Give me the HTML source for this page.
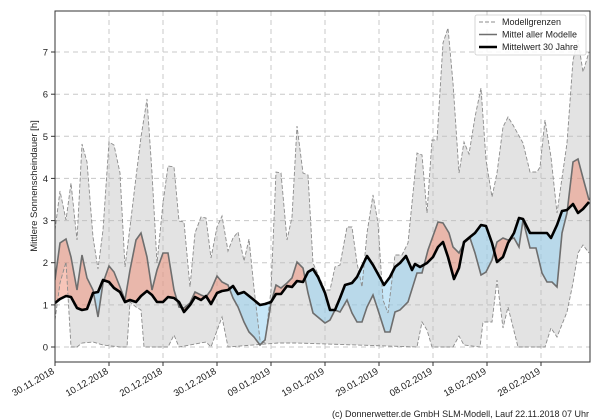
<!DOCTYPE html>
<html><head><meta charset="utf-8"><style>
html,body{margin:0;padding:0;background:#fff;}
svg{display:block;font-family:"Liberation Sans","DejaVu Sans",sans-serif;}
</style></head><body>
<svg width="600" height="420" viewBox="0 0 600 420" xmlns="http://www.w3.org/2000/svg">
<defs>
<clipPath id="plot"><rect x="55" y="11" width="535" height="351"/></clipPath>
<clipPath id="above"><polygon points="55,0 55,303 60,299 66,296 71,297 77,308 82,310 87,309 93,293 98,292 103,280 109,282 114,288 120,292 125,302 130,300 136,302 141,296 147,291 152,295 157,302 163,302 168,297 174,298 179,302 184,312 190,305 195,297 201,300 206,296 211,304 217,293 222,291 228,290 233,286 238,294 244,292 249,296 254,300 260,305 265,304 271,302 276,294 281,294 287,286 292,287 297,281 303,282 308,272 313,269 318,277 325,293 330,310 335,310 340,298 345,285 352,283 357,277 367,256 373,265 384,285 390,277 395,267 400,263 406,256 412,270 415,264 420,267 427,263 433,257 438,247 443,242 448,257 454,279 459,268 464,242 470,237 475,233 481,225 486,226 492,243 497,262 503,257 508,243 514,233 519,218 523,219 530,233 536,233 542,233 547,233 551,238 557,225 562,211 567,210 573,204 578,213 583,209 589,202 590,202 590,0"/></clipPath>
<clipPath id="below"><polygon points="55,420 55,303 60,299 66,296 71,297 77,308 82,310 87,309 93,293 98,292 103,280 109,282 114,288 120,292 125,302 130,300 136,302 141,296 147,291 152,295 157,302 163,302 168,297 174,298 179,302 184,312 190,305 195,297 201,300 206,296 211,304 217,293 222,291 228,290 233,286 238,294 244,292 249,296 254,300 260,305 265,304 271,302 276,294 281,294 287,286 292,287 297,281 303,282 308,272 313,269 318,277 325,293 330,310 335,310 340,298 345,285 352,283 357,277 367,256 373,265 384,285 390,277 395,267 400,263 406,256 412,270 415,264 420,267 427,263 433,257 438,247 443,242 448,257 454,279 459,268 464,242 470,237 475,233 481,225 486,226 492,243 497,262 503,257 508,243 514,233 519,218 523,219 530,233 536,233 542,233 547,233 551,238 557,225 562,211 567,210 573,204 578,213 583,209 589,202 590,202 590,420"/></clipPath>
</defs>

<!-- grid -->
<g stroke="#c8c8c8" stroke-width="1" stroke-dasharray="5,4" fill="none">
<line x1="55" y1="347" x2="590" y2="347"/><line x1="55" y1="304.9" x2="590" y2="304.9"/>
<line x1="55" y1="262.7" x2="590" y2="262.7"/><line x1="55" y1="220.6" x2="590" y2="220.6"/>
<line x1="55" y1="178.4" x2="590" y2="178.4"/><line x1="55" y1="136.3" x2="590" y2="136.3"/>
<line x1="55" y1="94.2" x2="590" y2="94.2"/><line x1="55" y1="52" x2="590" y2="52"/>
<line x1="109" y1="11" x2="109" y2="362"/><line x1="163" y1="11" x2="163" y2="362"/>
<line x1="217" y1="11" x2="217" y2="362"/><line x1="271" y1="11" x2="271" y2="362"/>
<line x1="325" y1="11" x2="325" y2="362"/><line x1="379" y1="11" x2="379" y2="362"/>
<line x1="433" y1="11" x2="433" y2="362"/><line x1="487" y1="11" x2="487" y2="362"/>
<line x1="541" y1="11" x2="541" y2="362"/>
</g>

<g clip-path="url(#plot)">
<!-- band -->
<polygon fill="#bdbdbd" fill-opacity="0.42" points="55,230 60,191 66,220 71,183 77,240 82,144 87,162 93,237 98,269 103,230 109,142 114,145 120,173 125,267 130,227 136,177 141,137 147,99 152,173 157,263 163,203 168,166 174,167 179,221 184,222 190,287 195,233 201,217 206,218 211,258 217,227 222,216 228,251 233,238 238,232 244,261 249,239 254,288 260,340 265,343 271,290 276,172 281,173 287,240 292,217 297,126 303,173 308,175 313,263 325,290 330,290 335,267 340,265 347,227 352,227 357,263 362,287 367,233 373,195 378,223 383,300 388,313 395,255 402,255 408,243 417,153 422,155 427,213 432,140 437,140 443,43 448,28 453,83 459,173 464,142 469,154 475,117 481,88 486,160 492,197 497,173 503,127 508,117 513,125 523,143 530,172 537,172 540,167 545,120 551,157 557,213 567,143 573,60 578,40 583,72 589,52 589,253 583,245 578,253 573,283 567,312 557,337 551,328 545,347 518,347 508,307 503,328 497,280 492,322 483,322 480,347 464,345 459,336 453,347 432,347 427,330 422,322 417,347 297,343 278,343 228,347 222,317 211,347 206,342 179,347 174,335 168,347 147,347 144,347 141,310 136,307 130,302 127,347 120,347 103,345 93,342 82,343 77,347 71,347 66,262 60,283 55,320"/>
<!-- anomaly fills -->
<polygon clip-path="url(#above)" fill="#f08c73" fill-opacity="0.5" points="55,280 60,243 66,239 71,257 77,290 82,255 87,278 93,290 98,317 103,283 109,266 114,272 120,287 125,300 130,270 136,240 141,233 147,257 152,290 157,270 163,253 168,253 174,290 179,307 184,308 190,303 195,292 201,295 206,297 211,290 217,276 222,282 228,285 233,298 238,307 244,322 249,332 254,337 260,345 265,340 271,303 276,285 281,288 287,283 292,278 297,262 303,268 308,293 313,313 325,323 330,320 335,310 340,312 347,300 352,313 357,322 362,322 367,307 373,295 378,310 385,332 390,332 395,312 400,310 408,302 417,273 422,273 428,250 438,222 443,223 449,233 453,247 459,253 464,243 470,238 475,253 481,275 486,272 492,260 497,242 503,238 508,240 514,238 519,247 523,220 530,248 536,248 542,273 547,282 552,282 557,287 562,233 567,213 573,162 578,159 583,178 589,200 589,202 583,209 578,213 573,204 567,210 562,211 557,225 551,238 547,233 542,233 536,233 530,233 523,219 519,218 514,233 508,243 503,257 497,262 492,243 486,226 481,225 475,233 470,237 464,242 459,268 454,279 448,257 443,242 438,247 433,257 427,263 420,267 415,264 412,270 406,256 400,263 395,267 390,277 384,285 373,265 367,256 357,277 352,283 345,285 340,298 335,310 330,310 325,293 318,277 313,269 308,272 303,282 297,281 292,287 287,286 281,294 276,294 271,302 265,304 260,305 254,300 249,296 244,292 238,294 233,286 228,290 222,291 217,293 211,304 206,296 201,300 195,297 190,305 184,312 179,302 174,298 168,297 163,302 157,302 152,295 147,291 141,296 136,302 130,300 125,302 120,292 114,288 109,282 103,280 98,292 93,293 87,309 82,310 77,308 71,297 66,296 60,299 55,303"/>
<polygon clip-path="url(#below)" fill="#90d0f2" fill-opacity="0.5" points="55,280 60,243 66,239 71,257 77,290 82,255 87,278 93,290 98,317 103,283 109,266 114,272 120,287 125,300 130,270 136,240 141,233 147,257 152,290 157,270 163,253 168,253 174,290 179,307 184,308 190,303 195,292 201,295 206,297 211,290 217,276 222,282 228,285 233,298 238,307 244,322 249,332 254,337 260,345 265,340 271,303 276,285 281,288 287,283 292,278 297,262 303,268 308,293 313,313 325,323 330,320 335,310 340,312 347,300 352,313 357,322 362,322 367,307 373,295 378,310 385,332 390,332 395,312 400,310 408,302 417,273 422,273 428,250 438,222 443,223 449,233 453,247 459,253 464,243 470,238 475,253 481,275 486,272 492,260 497,242 503,238 508,240 514,238 519,247 523,220 530,248 536,248 542,273 547,282 552,282 557,287 562,233 567,213 573,162 578,159 583,178 589,200 589,202 583,209 578,213 573,204 567,210 562,211 557,225 551,238 547,233 542,233 536,233 530,233 523,219 519,218 514,233 508,243 503,257 497,262 492,243 486,226 481,225 475,233 470,237 464,242 459,268 454,279 448,257 443,242 438,247 433,257 427,263 420,267 415,264 412,270 406,256 400,263 395,267 390,277 384,285 373,265 367,256 357,277 352,283 345,285 340,298 335,310 330,310 325,293 318,277 313,269 308,272 303,282 297,281 292,287 287,286 281,294 276,294 271,302 265,304 260,305 254,300 249,296 244,292 238,294 233,286 228,290 222,291 217,293 211,304 206,296 201,300 195,297 190,305 184,312 179,302 174,298 168,297 163,302 157,302 152,295 147,291 141,296 136,302 130,300 125,302 120,292 114,288 109,282 103,280 98,292 93,293 87,309 82,310 77,308 71,297 66,296 60,299 55,303"/>
<!-- bounds dashed -->
<polyline fill="none" stroke="#8c8c8c" stroke-width="0.9" stroke-dasharray="4,2" points="55,230 60,191 66,220 71,183 77,240 82,144 87,162 93,237 98,269 103,230 109,142 114,145 120,173 125,267 130,227 136,177 141,137 147,99 152,173 157,263 163,203 168,166 174,167 179,221 184,222 190,287 195,233 201,217 206,218 211,258 217,227 222,216 228,251 233,238 238,232 244,261 249,239 254,288 260,340 265,343 271,290 276,172 281,173 287,240 292,217 297,126 303,173 308,175 313,263 325,290 330,290 335,267 340,265 347,227 352,227 357,263 362,287 367,233 373,195 378,223 383,300 388,313 395,255 402,255 408,243 417,153 422,155 427,213 432,140 437,140 443,43 448,28 453,83 459,173 464,142 469,154 475,117 481,88 486,160 492,197 497,173 503,127 508,117 513,125 523,143 530,172 537,172 540,167 545,120 551,157 557,213 567,143 573,60 578,40 583,72 589,52"/>
<polyline fill="none" stroke="#8c8c8c" stroke-width="0.9" stroke-dasharray="4,2" points="55,320 60,283 66,262 71,347 77,347 82,343 93,342 103,345 120,347 127,347 130,302 136,307 141,310 144,347 147,347 168,347 174,335 179,347 206,342 211,347 222,317 228,347 278,343 297,343 417,347 422,322 427,330 432,347 453,347 459,336 464,345 480,347 483,322 492,322 497,280 503,328 508,307 518,347 545,347 551,328 557,337 567,312 573,283 578,253 583,245 589,253"/>
<!-- model mean -->
<polyline fill="none" stroke="#6e6e6e" stroke-width="1.6" points="55,280 60,243 66,239 71,257 77,290 82,255 87,278 93,290 98,317 103,283 109,266 114,272 120,287 125,300 130,270 136,240 141,233 147,257 152,290 157,270 163,253 168,253 174,290 179,307 184,308 190,303 195,292 201,295 206,297 211,290 217,276 222,282 228,285 233,298 238,307 244,322 249,332 254,337 260,345 265,340 271,303 276,285 281,288 287,283 292,278 297,262 303,268 308,293 313,313 325,323 330,320 335,310 340,312 347,300 352,313 357,322 362,322 367,307 373,295 378,310 385,332 390,332 395,312 400,310 408,302 417,273 422,273 428,250 438,222 443,223 449,233 453,247 459,253 464,243 470,238 475,253 481,275 486,272 492,260 497,242 503,238 508,240 514,238 519,247 523,220 530,248 536,248 542,273 547,282 552,282 557,287 562,233 567,213 573,162 578,159 583,178 589,200"/>
<!-- climatology -->
<polyline fill="none" stroke="#000" stroke-width="2.6" stroke-linejoin="round" points="55,303 60,299 66,296 71,297 77,308 82,310 87,309 93,293 98,292 103,280 109,282 114,288 120,292 125,302 130,300 136,302 141,296 147,291 152,295 157,302 163,302 168,297 174,298 179,302 184,312 190,305 195,297 201,300 206,296 211,304 217,293 222,291 228,290 233,286 238,294 244,292 249,296 254,300 260,305 265,304 271,302 276,294 281,294 287,286 292,287 297,281 303,282 308,272 313,269 318,277 325,293 330,310 335,310 340,298 345,285 352,283 357,277 367,256 373,265 384,285 390,277 395,267 400,263 406,256 412,270 415,264 420,267 427,263 433,257 438,247 443,242 448,257 454,279 459,268 464,242 470,237 475,233 481,225 486,226 492,243 497,262 503,257 508,243 514,233 519,218 523,219 530,233 536,233 542,233 547,233 551,238 557,225 562,211 567,210 573,204 578,213 583,209 589,202"/>
</g>

<!-- axes frame -->
<rect x="55" y="11" width="535" height="351" fill="none" stroke="#333" stroke-width="1"/>
<!-- y ticks -->
<g stroke="#333" stroke-width="1">
<line x1="51" y1="347" x2="55" y2="347"/><line x1="51" y1="304.9" x2="55" y2="304.9"/>
<line x1="51" y1="262.7" x2="55" y2="262.7"/><line x1="51" y1="220.6" x2="55" y2="220.6"/>
<line x1="51" y1="178.4" x2="55" y2="178.4"/><line x1="51" y1="136.3" x2="55" y2="136.3"/>
<line x1="51" y1="94.2" x2="55" y2="94.2"/><line x1="51" y1="52" x2="55" y2="52"/>
<line x1="55" y1="362" x2="55" y2="366"/><line x1="109" y1="362" x2="109" y2="366"/>
<line x1="163" y1="362" x2="163" y2="366"/><line x1="217" y1="362" x2="217" y2="366"/>
<line x1="271" y1="362" x2="271" y2="366"/><line x1="325" y1="362" x2="325" y2="366"/>
<line x1="379" y1="362" x2="379" y2="366"/><line x1="433" y1="362" x2="433" y2="366"/>
<line x1="487" y1="362" x2="487" y2="366"/><line x1="541" y1="362" x2="541" y2="366"/>
</g>
<g font-size="9.5" fill="#222" text-anchor="end">
<text x="48" y="350.5">0</text><text x="48" y="308.4">1</text><text x="48" y="266.2">2</text>
<text x="48" y="224.1">3</text><text x="48" y="181.9">4</text><text x="48" y="139.8">5</text>
<text x="48" y="97.7">6</text><text x="48" y="55.5">7</text>
</g>
<text transform="translate(37,186) rotate(-90)" font-size="9.5" fill="#222" text-anchor="middle">Mittlere Sonnenscheindauer [h]</text>
<g font-size="9.5" fill="#222" text-anchor="end">
<text transform="translate(55,373) rotate(-30)">30.11.2018</text>
<text transform="translate(109,373) rotate(-30)">10.12.2018</text>
<text transform="translate(163,373) rotate(-30)">20.12.2018</text>
<text transform="translate(217,373) rotate(-30)">30.12.2018</text>
<text transform="translate(271,373) rotate(-30)">09.01.2019</text>
<text transform="translate(325,373) rotate(-30)">19.01.2019</text>
<text transform="translate(379,373) rotate(-30)">29.01.2019</text>
<text transform="translate(433,373) rotate(-30)">08.02.2019</text>
<text transform="translate(487,373) rotate(-30)">18.02.2019</text>
<text transform="translate(541,373) rotate(-30)">28.02.2019</text>
</g>
<!-- legend -->
<rect x="475" y="15" width="111" height="40" rx="2" fill="#fff" fill-opacity="0.85" stroke="#ccc" stroke-width="0.8"/>
<line x1="479" y1="22" x2="497" y2="22" stroke="#8c8c8c" stroke-width="1" stroke-dasharray="4,2"/>
<line x1="479" y1="34.5" x2="497" y2="34.5" stroke="#6e6e6e" stroke-width="1.6"/>
<line x1="479" y1="47" x2="497" y2="47" stroke="#000" stroke-width="2.6"/>
<g font-size="9" fill="#222">
<text x="502" y="25">Modellgrenzen</text>
<text x="502" y="37.5">Mittel aller Modelle</text>
<text x="502" y="50">Mittelwert 30 Jahre</text>
</g>
<text x="589" y="417" font-size="9" fill="#222" text-anchor="end">(c) Donnerwetter.de GmbH SLM-Modell, Lauf 22.11.2018 07 Uhr</text>
</svg>
</body></html>
